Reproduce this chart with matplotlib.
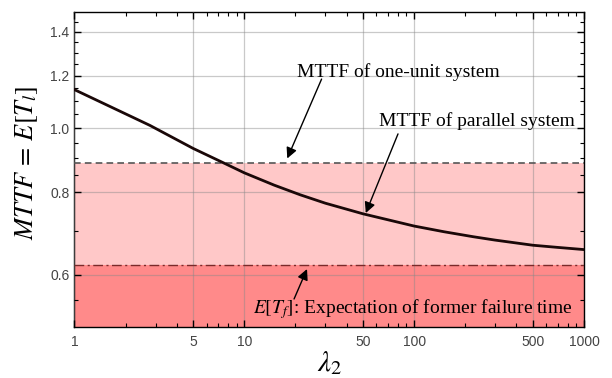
import matplotlib
matplotlib.use('Agg')
import matplotlib.pyplot as plt
from matplotlib.ticker import FixedLocator, NullFormatter, LogLocator

plt.rcParams['mathtext.fontset'] = 'stix'
plt.rcParams['font.family'] = 'Liberation Sans'

# MTTF of the parallel system versus lambda_2
lam2 = [1, 2.78, 5, 7.36, 10, 15, 21.3, 30, 50, 100, 150, 223, 300, 500, 700, 1000]
mttf_parallel = [1.144, 1.01, 0.932, 0.889, 0.856, 0.820, 0.793, 0.770, 0.742,
                 0.711, 0.697, 0.685, 0.677, 0.665, 0.660, 0.655]

mttf_one_unit = 0.886   # dashed line
e_tf = 0.62             # dash-dot line, E[T_f]

x_ticks = [1, 5, 10, 50, 100, 500, 1000]
y_ticks = [0.6, 0.8, 1.0, 1.2, 1.4]
y_minor = [0.55, 0.7, 0.85, 0.9, 0.95, 1.05, 1.1, 1.15, 1.25, 1.3, 1.35, 1.45]

fig = plt.figure(figsize=(6.12, 3.78), dpi=100)
ax = fig.add_axes([0.1217, 0.1349, 0.8325, 0.8334])
ax.set_xscale('log')
ax.set_yscale('log')
ax.set_xlim(1, 1000)
ax.set_ylim(0.5, 1.5)

# shaded regions
ax.axhspan(0.5, e_tf, color='#ff8a8a', zorder=0, lw=0)
ax.axhspan(e_tf, mttf_one_unit, color='#ffc8c8', zorder=0, lw=0)

ax.axhline(mttf_one_unit, color='#555555', lw=1.2, ls=(0, (4, 2.5)), zorder=3)
ax.axhline(e_tf, color='#7a2a2a', lw=1.0, ls=(0, (7, 2.5, 1.5, 2.5)), zorder=3)

ax.plot(lam2, mttf_parallel, color='#1a0808', lw=2.0, zorder=4)

# ticks and grid
ax.set_xticks(x_ticks)
ax.set_xticklabels([str(t) for t in x_ticks])
ax.set_yticks(y_ticks)
ax.set_yticklabels(['%.1f' % t for t in y_ticks])
ax.xaxis.set_minor_locator(LogLocator(base=10, subs=(2, 3, 4, 6, 7, 8, 9)))
ax.xaxis.set_minor_formatter(NullFormatter())
ax.yaxis.set_minor_locator(FixedLocator(y_minor))
ax.yaxis.set_minor_formatter(NullFormatter())
ax.grid(True, which='major', color='#888888', alpha=0.45, lw=0.9, zorder=1)
ax.set_axisbelow(False)

ax.tick_params(which='both', direction='in', top=True, right=True, colors='black',
               labelcolor='#444444', labelsize=10)
ax.tick_params(which='major', length=5, width=1)
ax.tick_params(which='minor', length=3, width=0.8)
ax.tick_params(axis='x', pad=6)
for s in ax.spines.values():
    s.set_linewidth(1.0)
    s.set_color('black')

ax.set_ylabel(r'$MTTF\,=\,E[T_l]$', fontsize=19)
ax.yaxis.set_label_coords(-0.068, 0.52)
ax.set_xlabel(r'$\lambda_2$', fontsize=21, labelpad=0)

serif = ['Liberation Serif', 'DejaVu Serif']
arrow = dict(arrowstyle='-|>', color='black', lw=1.0, mutation_scale=16,
             shrinkA=0, shrinkB=0)

ax.text(0.635, 0.81, 'MTTF of one-unit system', transform=ax.transAxes,
        ha='center', va='center', fontsize=14, family=serif, zorder=6)
ax.annotate('', xy=(17.9, 0.90), xycoords='data',
            xytext=(0.485, 0.787), textcoords='axes fraction', arrowprops=arrow, zorder=6)

ax.text(0.789, 0.654, 'MTTF of parallel system', transform=ax.transAxes,
        ha='center', va='center', fontsize=14, family=serif, zorder=6)
ax.annotate('', xy=(51.9, 0.744), xycoords='data',
            xytext=(0.635, 0.613), textcoords='axes fraction', arrowprops=arrow, zorder=6)

ax.text(0.978, 0.057, r'$E[T_f]$: Expectation of former failure time', transform=ax.transAxes,
        ha='right', va='center', fontsize=14, family=serif, zorder=6)
ax.annotate('', xy=(23.4, 0.612), xycoords='data',
            xytext=(0.431, 0.089), textcoords='axes fraction', arrowprops=arrow, zorder=6)

fig.savefig('out.png', dpi=100)
